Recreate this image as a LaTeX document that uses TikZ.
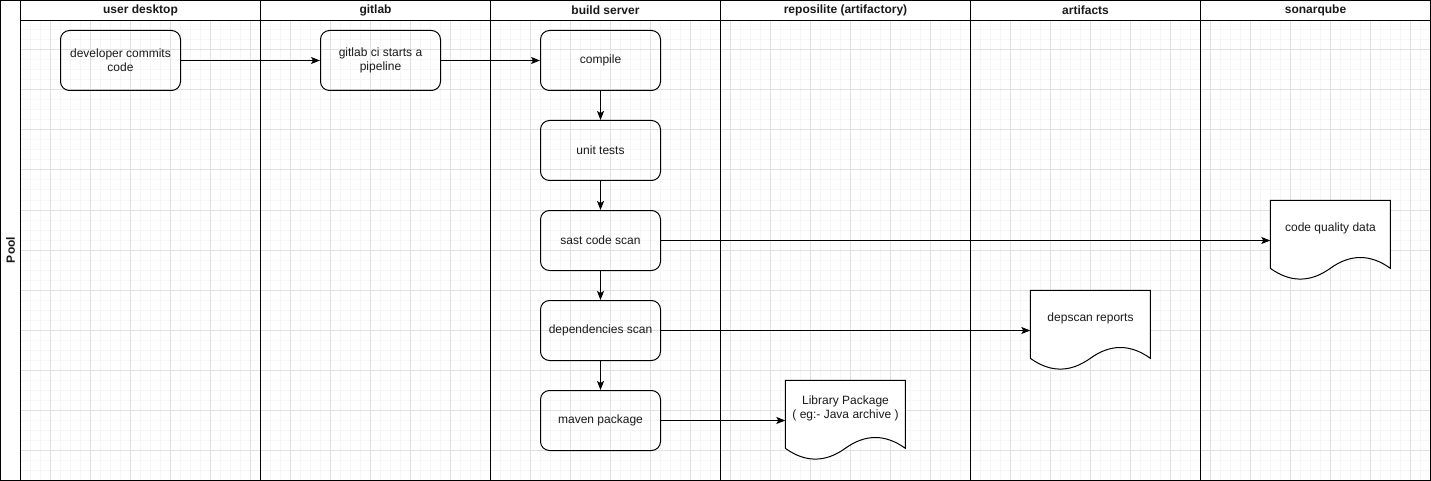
\documentclass[tikz,border=0pt]{standalone}
\usepackage{fontspec}
\setmainfont{Liberation Sans}
\usetikzlibrary{arrows.meta}
\definecolor{gridminor}{HTML}{F6F6F6}
\definecolor{gridmajor}{HTML}{E0E0E0}
\definecolor{txt}{HTML}{1A1A1A}
\begin{document}
\begin{tikzpicture}[x=1pt,y=-1pt,
  every node/.style={font=\fontsize{12}{14}\selectfont, text=txt, inner sep=0pt, align=center},
  stepbox/.style={draw=black, line width=1pt, rounded corners=9pt, minimum width=120pt, minimum height=60pt},
  docframe/.style={minimum width=120pt, minimum height=80pt},
  hdr/.style={font=\bfseries\fontsize{12}{14}\selectfont},
  conn/.style={draw=black, line width=1pt, -{Stealth[length=9pt,width=7pt,inset=2pt]}},
  lane/.style={draw=black, line width=1pt},
  docline/.style={draw=black, line width=1pt, fill=white}
]
\useasboundingbox (0,0) rectangle (1431,481);
\fill[white] (0,0) rectangle (1431,481);
% grid
\foreach \x in {30,40,...,1420} {\draw[gridminor, line width=1pt] (\x,20) -- (\x,480);}
\foreach \y in {30,40,...,470} {\draw[gridminor, line width=1pt] (20,\y) -- (1430,\y);}
\foreach \x in {50,90,...,1420} {\draw[gridmajor, line width=1pt] (\x,20) -- (\x,480);}
\foreach \y in {50,90,...,470} {\draw[gridmajor, line width=1pt] (20,\y) -- (1430,\y);}
% pool and lanes
\draw[lane] (0.5,0.5) rectangle (1430.5,480.5);
\draw[lane] (20.5,0.5) -- (20.5,480.5);
\draw[lane] (20.5,20.5) -- (1430.5,20.5);
\foreach \x in {260.5,490.5,720.5,970.5,1200.5} {\draw[lane] (\x,0.5) -- (\x,480.5);}
\node[hdr, rotate=90] (pool) at (10.5,250) {Pool};
\node[hdr] (h1) at (140.5,10.5) {user desktop};
\node[hdr] (h2) at (375.5,10.5) {gitlab};
\node[hdr] (h3) at (605.5,10.5) {build server};
\node[hdr] (h4) at (845.5,10.5) {reposilite (artifactory)};
\node[hdr] (h5) at (1085.5,10.5) {artifacts};
\node[hdr] (h6) at (1315.5,10.5) {sonarqube};
% steps
\node[stepbox] (dev) at (120.5,60.5) {developer commits\\code};
\node[stepbox] (ci) at (380.5,60.5) {gitlab ci starts a\\pipeline};
\node[stepbox] (compile) at (600.5,60.5) {compile};
\node[stepbox] (unit) at (600.5,150.5) {unit tests};
\node[stepbox] (sast) at (600.5,240.5) {sast code scan};
\node[stepbox] (deps) at (600.5,330.5) {dependencies scan};
\node[stepbox] (maven) at (600.5,420.5) {maven package};
% documents
\node[docframe] (lib) at (845.5,420.5) {};
\node[docframe] (dep) at (1090.5,330.5) {};
\node[docframe] (cq) at (1330.5,240.5) {};
\foreach \d in {lib,dep,cq} {
  \draw[docline, shift={(\d.north west)}] (0,0) -- (120,0) -- (120,68)
    .. controls (100,53.6) and (80,53.6) .. (60,68)
    .. controls (40,82.4) and (20,82.4) .. (0,68) -- cycle;
}
\node (libt) at (845.5,408.5) {Library Package\\( eg:- Java archive )};
\node (dept) at (1090.5,318.5) {depscan reports};
\node (cqt) at (1330.5,228.5) {code quality data};
% connectors
\draw[conn] (dev) -- (ci);
\draw[conn] (ci) -- (compile);
\draw[conn] (compile) -- (unit);
\draw[conn] (unit) -- (sast);
\draw[conn] (sast) -- (deps);
\draw[conn] (deps) -- (maven);
\draw[conn] (sast.east) -- (cq.west);
\draw[conn] (deps.east) -- (dep.west);
\draw[conn] (maven.east) -- (lib.west);
\end{tikzpicture}
\end{document}
